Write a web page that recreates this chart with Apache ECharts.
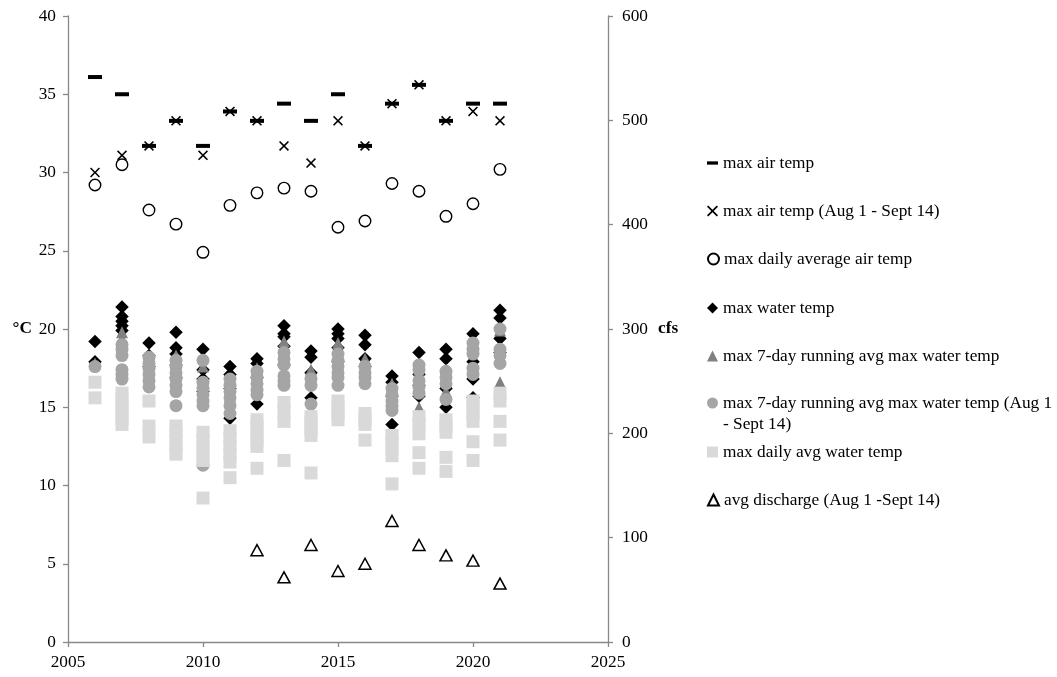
<!DOCTYPE html>
<html>
<head>
<meta charset="utf-8">
<script src="https://cdn.jsdelivr.net/npm/echarts@6/dist/echarts.min.js"></script>
<style>
  html, body { margin: 0; padding: 0; background: #fff; }
  #chart { width: 1057px; height: 677px; }
</style>
</head>
<body>
<div id="chart"></div>
<script>
// Summer air / water temperature summary and mean discharge, by year
const years = [2006, 2007, 2008, 2009, 2010, 2011, 2012, 2013, 2014, 2015, 2016, 2017, 2018, 2019, 2020, 2021];

// Air temperature (°C), one value per year
const maxAirTemp       = [36.1, 35.0, 31.7, 33.3, 31.7, 33.9, 33.3, 34.4, 33.3, 35.0, 31.7, 34.4, 35.6, 33.3, 34.4, 34.4];
const maxAirTempAugSep = [30.0, 31.1, 31.7, 33.3, 31.1, 33.9, 33.3, 31.7, 30.6, 33.3, 31.7, 34.4, 35.6, 33.3, 33.9, 33.3];
const maxDailyAvgAir   = [29.2, 30.5, 27.6, 26.7, 24.9, 27.9, 28.7, 29.0, 28.8, 26.5, 26.9, 29.3, 28.8, 27.2, 28.0, 30.2];

// Water temperature (°C), one value per monitoring site, grouped by year
const maxWaterTemp = [
  [19.2, 17.9],
  [21.4, 20.8, 20.5, 20.2, 19.9],
  [19.1, 18.3, 17.6],
  [19.8, 18.8, 18.4, 17.7, 16.9],
  [18.7, 17.4, 16.8, 16.0],
  [17.6, 17.1, 16.2, 14.3],
  [18.1, 17.8, 16.9, 15.2],
  [20.2, 19.7, 19.5, 18.9, 17.7],
  [18.6, 18.2, 17.2, 15.6],
  [20.0, 19.7, 19.4, 18.8, 17.9],
  [19.6, 19.0, 18.1, 17.6],
  [17.0, 16.6, 15.7, 13.9],
  [18.5, 17.1, 16.4, 15.7],
  [18.7, 18.1, 16.2, 15.0],
  [19.7, 17.9, 16.8, 15.6],
  [21.2, 20.7, 19.4, 18.5]
];
const max7DayAvg = [
  [17.8],
  [19.8, 19.4],
  [17.9, 17.3],
  [18.3, 17.4],
  [17.6, 16.4],
  [16.8, 15.7],
  [17.5, 16.4],
  [19.2, 18.2],
  [17.4, 16.6],
  [19.1, 18.3],
  [18.1, 17.3],
  [16.5, 15.6],
  [17.4, 15.0],
  [17.4, 16.0],
  [18.9, 17.4],
  [19.9, 16.6]
];
const max7DayAvgAugSep = [
  [17.6],
  [19.0, 18.7, 18.3, 17.4, 17.1, 16.8],
  [18.2, 17.8, 17.5, 17.1, 16.7, 16.3],
  [18.0, 17.6, 17.2, 16.8, 16.4, 16.0, 15.1],
  [18.0, 16.6, 16.2, 15.8, 15.4, 15.1, 11.3],
  [16.8, 16.4, 16.0, 15.6, 15.1, 14.6],
  [17.3, 16.9, 16.5, 16.1, 15.8],
  [18.5, 18.1, 17.7, 17.0, 16.7, 16.4],
  [16.8, 16.4, 15.2],
  [18.4, 18.0, 17.6, 17.2, 16.9, 16.4],
  [17.6, 17.2, 16.9, 16.5],
  [16.2, 15.8, 15.4, 15.1, 14.8],
  [17.7, 17.4, 16.7, 16.3, 15.9],
  [17.3, 16.9, 16.5, 15.5],
  [19.1, 18.7, 18.4, 17.5, 17.1],
  [20.0, 18.7, 18.3, 17.8]
];
const maxDailyAvgWater = [
  [16.6, 15.6],
  [15.9, 15.5, 15.1, 14.7, 14.3, 13.9],
  [15.4, 13.8, 13.1],
  [13.8, 13.4, 12.9, 12.5, 12.0],
  [13.4, 12.9, 12.5, 12.0, 11.6, 9.2],
  [13.5, 13.0, 12.5, 12.0, 11.5, 10.5],
  [14.2, 13.8, 13.3, 12.9, 12.5, 11.1],
  [15.3, 14.7, 14.1, 11.6],
  [14.4, 14.0, 13.6, 13.2, 10.8],
  [15.4, 15.0, 14.6, 14.2],
  [14.6, 14.2, 13.9, 12.9],
  [13.2, 12.8, 12.3, 11.9, 10.1],
  [14.4, 13.9, 13.3, 12.1, 11.1],
  [14.2, 13.8, 13.4, 11.8, 10.9],
  [15.4, 15.0, 14.6, 14.1, 12.8, 11.6],
  [15.9, 15.4, 14.1, 12.9]
];

// Mean discharge Aug 1 - Sept 14 (cfs)
const dischargeYears = [2012, 2013, 2014, 2015, 2016, 2017, 2018, 2019, 2020, 2021];
const avgDischarge   = [88, 62, 93, 68, 75, 116, 93, 83, 78, 56];

// Axis ticks
const xTicks = { min: 2005, max: 2025, step: 5 };
const tempTicks = { min: 0, max: 40, step: 5 };
const flowTicks = { min: 0, max: 600, step: 100 };

const names = [
  'max air temp',
  'max air temp (Aug 1 - Sept 14)',
  'max daily average air temp',
  'max water temp',
  'max 7-day running avg max water temp',
  'max 7-day running avg max water temp (Aug 1 - Sept 14)',
  'max daily avg water temp',
  'avg discharge (Aug 1 -Sept 14)'
];

const FONT = '"Liberation Serif", "Times New Roman", serif';
const FS = 17.3;

const perYear = vals => years.map((y, i) => [y, vals[i]]);
const perSite = groups => {
  const out = [];
  groups.forEach((g, i) => g.forEach(v => out.push([years[i], v])));
  return out;
};

const crossPath = 'path://M0,11L11,0L50,39L89,0L100,11L61,50L100,89L89,100L50,61L11,100L0,89L39,50Z';
const dashPath = 'path://M0,0H40V12H0Z';

const solid = c => ({ color: c, opacity: 1, borderWidth: 0 });
const hollow = w => ({ color: 'rgba(255,255,255,0)', opacity: 1, borderColor: '#000', borderWidth: w });

const series = [
  { name: names[0], data: perYear(maxAirTemp), symbol: 'rect', symbolSize: [14, 4], itemStyle: solid('#000') },
  { name: names[1], data: perYear(maxAirTempAugSep), symbol: crossPath, symbolSize: 10, itemStyle: solid('#000') },
  { name: names[2], data: perYear(maxDailyAvgAir), symbol: 'circle', symbolSize: 11.5, itemStyle: hollow(1.4) },
  { name: names[3], data: perSite(maxWaterTemp), symbol: 'diamond', symbolSize: 13.5, itemStyle: solid('#000') },
  { name: names[4], data: perSite(max7DayAvg), symbol: 'triangle', symbolSize: 12, itemStyle: solid('#808080') },
  { name: names[5], data: perSite(max7DayAvgAugSep), symbol: 'circle', symbolSize: 13, itemStyle: solid('#a5a5a5') },
  { name: names[6], data: perSite(maxDailyAvgWater), symbol: 'rect', symbolSize: 13, itemStyle: solid('#d9d9d9') },
  { name: names[7], data: dischargeYears.map((y, i) => [y, avgDischarge[i]]), yAxisIndex: 1,
    symbol: 'triangle', symbolSize: [12, 11], itemStyle: hollow(1.5) }
].map((s, i) => Object.assign({ type: 'scatter', z: 2 + i, animation: false, silent: true }, s));

// Legend rows, one component per row so every row sits on the same pitch
const legendIcons = [dashPath, crossPath, 'circle', 'diamond', 'triangle', 'circle', 'rect', 'triangle'];
const legendRowY = [163, 211, 259, 308, 356, 403, 452, 500];
const legends = names.map((n, i) => ({
  data: [{ name: n, icon: legendIcons[i] }],
  left: 707,
  top: legendRowY[i] - 9,
  orient: 'vertical',
  padding: 0,
  itemWidth: 11,
  itemHeight: 11,
  selectedMode: false,
  formatter: name => name === names[5] ? 'max 7-day running avg max water temp (Aug 1' : name,
  textStyle: { fontFamily: FONT, fontSize: FS, color: '#000', lineHeight: 18 }
}));

const axisLineStyle = { color: '#898989', width: 1.3 };
const plainNumber = v => String(v);

const chart = echarts.init(document.getElementById('chart'), null, { renderer: 'canvas' });
chart.setOption({
  backgroundColor: '#fff',
  animation: false,
  grid: { left: 68, right: 449, top: 16, bottom: 35, containLabel: false },
  legend: legends,
  xAxis: {
    type: 'value', min: xTicks.min, max: xTicks.max, interval: xTicks.step,
    splitLine: { show: false },
    axisLine: { lineStyle: axisLineStyle },
    axisTick: { show: true, length: 5, lineStyle: axisLineStyle },
    axisLabel: { fontFamily: FONT, fontSize: FS, color: '#000', margin: 12, formatter: plainNumber }
  },
  yAxis: [
    {
      type: 'value', min: tempTicks.min, max: tempTicks.max, interval: tempTicks.step,
      name: '°C', nameLocation: 'middle', nameRotate: 0, nameGap: 36,
      nameTextStyle: { fontFamily: FONT, fontSize: FS, fontWeight: 'bold', color: '#000' },
      splitLine: { show: false },
      axisLine: { show: true, lineStyle: axisLineStyle },
      axisTick: { show: true, length: 5, lineStyle: axisLineStyle },
      axisLabel: { fontFamily: FONT, fontSize: FS, color: '#000', margin: 12, formatter: plainNumber }
    },
    {
      type: 'value', position: 'right', min: flowTicks.min, max: flowTicks.max, interval: flowTicks.step,
      name: 'cfs', nameLocation: 'middle', nameRotate: 0, nameGap: 50,
      nameTextStyle: { fontFamily: FONT, fontSize: FS, fontWeight: 'bold', color: '#000' },
      splitLine: { show: false },
      axisLine: { show: true, lineStyle: axisLineStyle },
      axisTick: { show: true, length: 5, lineStyle: axisLineStyle },
      axisLabel: { fontFamily: FONT, fontSize: FS, color: '#000', margin: 14, formatter: plainNumber }
    }
  ],
  graphic: [{
    type: 'text', left: 723, top: 416,
    style: { text: '- Sept 14)', font: FS + 'px ' + FONT, fill: '#000' }
  }],
  series: series
});
</script>
</body>
</html>
